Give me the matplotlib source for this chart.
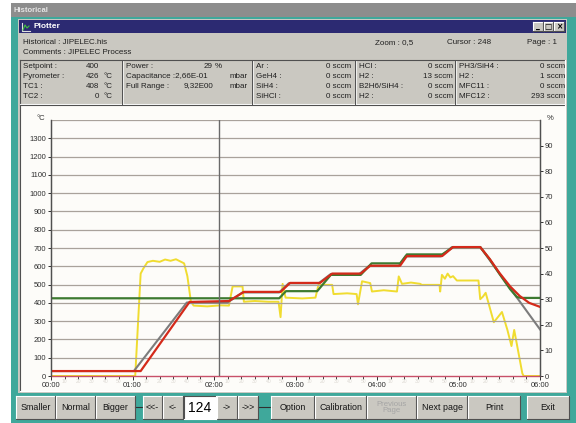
import matplotlib
matplotlib.use("Agg")
import matplotlib.pyplot as plt
from matplotlib.patches import Rectangle
from matplotlib.ticker import FixedLocator, FuncFormatter

plt.rcParams["font.family"] = ["Liberation Sans", "DejaVu Sans"]

# ── Data (time in minutes) ─────────────────────────────
red_t = [0, 66, 102, 131, 142, 169, 176, 198, 207, 228, 235, 257, 262, 288, 296, 316,
         323, 330, 338, 345, 352, 360]
red_v = [27, 27, 405, 410, 460, 460, 509, 509, 560, 560, 603, 603, 656, 656, 705, 705,
         640, 565, 490, 438, 400, 378]

green_t = [0, 168, 173, 196, 206, 228, 236, 257, 262, 288, 296, 316, 323, 330, 338, 343,
           346, 360]
green_v = [425, 425, 464, 464, 553, 553, 616, 616, 665, 665, 705, 705, 638, 560, 475, 432,
           427, 427]

gray_t = [0, 61, 100, 130, 141, 168, 175, 197, 206, 227, 234, 256, 261, 287, 295, 316, 360]
gray_v = [27, 27, 402, 402, 457, 457, 507, 507, 558, 558, 601, 601, 654, 654, 704, 705, 255]

power_t = [0, 62, 64, 66, 68, 71, 75, 80, 84, 88, 92, 95, 98, 100.4, 103, 105, 115, 125,
           131, 133.7, 141, 142, 150, 160, 167.5, 169, 170.5, 172.7, 185, 194.7, 196.9,
           207, 208, 218, 225, 226, 229, 235, 236.3, 245, 254.7, 256, 258.4, 265, 271.8,
           273, 286, 286.5, 287.8, 290, 292, 294, 296, 298.8, 314.7, 316, 318, 320, 326,
           332, 336, 339, 341, 347, 348, 360]
power_v = [0, 0, 20, 40, 42, 44.5, 45, 44.6, 45.5, 45, 45.6, 44.8, 44, 39, 29, 27.5, 27.2,
           27.6, 27.5, 35, 35, 29, 29.3, 29, 29, 23, 36, 30.6, 30.3, 30.6, 35.6, 35.6, 32,
           32.3, 32, 28, 37, 36.3, 33, 33.5, 33, 38.9, 36, 36.5, 36, 35.6, 35.6, 33, 39.5,
           38, 40, 38.5, 39, 37.3, 37.3, 30, 31, 32.5, 21, 25, 18, 11.7, 18, 1, 0, 0]

tc2_t = [0, 360]
tc2_v = [0, 0]

cursor_min = 124

hour_ticks = [0, 60, 120, 180, 240, 300, 360]
hour_labels = ["00:00", "01:00", "02:00", "03:00", "04:00", "05:00", "06:00"]
temp_ticks = list(range(0, 1400, 100))
pct_ticks = list(range(0, 100, 10))

info_rows = [
    ["Setpoint :", "400", "", "Power :", "29", "%", "Ar :", "0 sccm", "HCl :", "0 sccm",
     "PH3/SiH4 :", "0 sccm"],
    ["Pyrometer :", "426", "°C", "Capacitance :2,66E-01", "", "mbar", "GeH4 :", "0 sccm",
     "H2 :", "13 sccm", "H2 :", "1 sccm"],
    ["TC1 :", "408", "°C", "Full Range :", "9,32E00", "mbar", "SiH4 :", "0 sccm",
     "B2H6/SiH4 :", "0 sccm", "MFC11 :", "0 sccm"],
    ["TC2 :", "0", "°C", "", "", "", "SiHCl :", "0 sccm", "H2 :", "0 sccm",
     "MFC12 :", "293 sccm"],
]

buttons = [("Smaller", 16, 55), ("Normal", 56, 95), ("Bigger", 96, 135),
           ("<<-", 143, 162), ("<-", 163, 183), ("->", 217, 237), ("->>", 238, 258),
           ("Option", 271, 314), ("Calibration", 315, 366), ("Previous\nPage", 367, 416),
           ("Next page", 417, 467), ("Print", 468, 520), ("Exit", 527, 569)]

# ── Colours ────────────────────────────────────────────
TEAL = "#3fa89b"
FACE = "#cac8c1"
NAVY = "#2c2a72"

W, H = 576, 423
fig = plt.figure(figsize=(W / 100, H / 100), dpi=100)
fig.patch.set_facecolor("white")

ui = fig.add_axes([0, 0, 1, 1])
ui.set_xlim(0, W)
ui.set_ylim(H, 0)
ui.axis("off")
ui.set_zorder(0)


def rect(x0, y0, x1, y1, color, **kw):
    ui.add_patch(Rectangle((x0, y0), x1 - x0, y1 - y0, facecolor=color,
                           edgecolor=kw.pop("ec", "none"), lw=kw.pop("lw", 0), **kw))


def bevel(x0, y0, x1, y1, raised=True):
    light, dark = ("white", "#505050") if raised else ("#505050", "white")
    ui.plot([x0, x1], [y0, y0], color=light, lw=0.8)
    ui.plot([x0, x0], [y0, y1], color=light, lw=0.8)
    ui.plot([x0, x1], [y1, y1], color=dark, lw=0.8)
    ui.plot([x1, x1], [y0, y1], color=dark, lw=0.8)


# ── Window frame ───────────────────────────────────────
rect(11, 3, W, 17, "#8d8d8d")
ui.text(14, 10, "Historical", color="#e6e6e6", fontsize=5.5, fontweight="bold", va="center")
rect(11, 17, W, H, TEAL)
rect(18, 19, 567, 393, FACE)
rect(19, 20, 566, 33, NAVY)
ui.plot([22, 22, 30], [23, 31, 31], color="#e0e0e0", lw=0.8)
ui.plot([23, 25, 27, 29], [30, 25, 28, 26], color="#40c040", lw=0.8)
ui.text(33, 26.5, "Plotter", color="white", fontsize=6, fontweight="bold", va="center")
for i, g in enumerate(["_", "□", "×"]):
    bx = 533 + i * 10.5
    rect(bx, 22, bx + 9.5, 31, FACE)
    bevel(bx, 22, bx + 9.5, 31)
    ui.text(bx + 4.75, 26.5, g, fontsize=5.5, ha="center", va="center",
            fontweight="bold", family=["DejaVu Sans"])

# header
hdr = dict(fontsize=5.8, va="center", color="#202020")
ui.text(23, 43, "Historical : JIPELEC.his", **hdr)
ui.text(23, 53, "Comments : JIPELEC Process", **hdr)
ui.text(375, 43, "Zoom : 0,5", **hdr)
ui.text(447, 43, "Cursor : 248", **hdr)
ui.text(527, 43, "Page : 1", **hdr)
bevel(20, 60, 565, 104, raised=False)
for sx in [122, 252, 355, 455]:
    ui.plot([sx, sx], [61, 104], color="#505050", lw=0.7)
    ui.plot([sx + 1, sx + 1], [61, 104], color="white", lw=0.5)

# info table
row_y = [66, 76, 86, 96]
for y, row in zip(row_y, info_rows):
    ui.text(23, y, row[0], **hdr)
    ui.text(99, y, row[1], ha="right", **hdr)
    ui.text(104, y, row[2], **hdr)
    ui.text(126, y, row[3], **hdr)
    ui.text(213, y, row[4], ha="right", **hdr)
    ui.text(230 if row[5] == "mbar" else 215, y, row[5], **hdr)
    ui.text(256, y, row[6], **hdr)
    ui.text(351, y, row[7], ha="right", **hdr)
    ui.text(359, y, row[8], **hdr)
    ui.text(453, y, row[9], ha="right", **hdr)
    ui.text(459, y, row[10], **hdr)
    ui.text(565, y, row[11], ha="right", **hdr)

# plot area
rect(20, 105, 565, 391, "#fdfcf9")
bevel(20, 105, 565, 391, raised=False)

# ── Buttons ────────────────────────────────────────────
ui.plot([135, 143], [407, 407], color="#303030", lw=0.8)
ui.plot([258, 271], [407, 407], color="#303030", lw=0.8)
for label, x0, x1 in buttons:
    rect(x0, 396, x1, 419, FACE)
    bevel(x0, 396, x1, 419)
    disabled = label.startswith("Previous")
    ui.text((x0 + x1) / 2, 407.5, label, fontsize=5.6 if disabled else 6.4,
            ha="center", va="center", linespacing=0.95,
            color="#a5a5a5" if disabled else "#151515")
rect(184, 396, 216, 419, "white")
bevel(184, 396, 216, 419, raised=False)
ui.text(200, 408, "124", fontsize=10, ha="center", va="center")

# ── Data axes ──────────────────────────────────────────
left, right, top, bottom = 51, 540, 120, 376
ax = fig.add_axes([left / W, (H - bottom) / H, (right - left) / W, (bottom - top) / H])
ax2 = ax.twinx()
ax.set_zorder(3)
ax2.set_zorder(2)
ax.patch.set_visible(False)
ax2.patch.set_visible(False)

ax2.plot(power_t, power_v, color="#f0dc30", lw=1.4, solid_joinstyle="round")
ax.plot(tc2_t, tc2_v, color="#c8506a", lw=1.0, clip_on=False)
ax.plot(gray_t, gray_v, color="#7c7c7c", lw=1.5)
ax.plot(green_t, green_v, color="#3d7a30", lw=1.6)
ax.plot(red_t, red_v, color="#d42a1a", lw=1.6)
ax.axvline(cursor_min, color="#6a6a6a", lw=1.0)

ax.set_xlim(0, 360)
ax.set_ylim(0, 1400)
ax2.set_ylim(0, 100)
for y in temp_ticks[1:] + [1400]:
    ax.axhline(y, color="#a9a29b", lw=0.9, zorder=0)

ax.set_xticks(hour_ticks)
ax.set_xticklabels(hour_labels)
ax.xaxis.set_minor_locator(FixedLocator([m for m in range(10, 360, 10) if m % 60]))
ax.xaxis.set_minor_formatter(FuncFormatter(lambda v, p: f"{int(v % 60)}"))
ax.tick_params(axis="x", which="major", length=3, width=0.7, pad=1, labelsize=5.5,
               colors="#303030")
ax.tick_params(axis="x", which="minor", length=2.5, width=0.7, pad=0, labelsize=3.6,
               labelcolor="#dcd8d2", color="#404040")
ax.set_yticks(temp_ticks)
ax.tick_params(axis="y", length=2.5, width=0.7, pad=1, labelsize=5.5, colors="#303030")
ax2.set_yticks(pct_ticks)
ax2.tick_params(axis="y", length=2.5, width=0.7, pad=1, labelsize=5.5, colors="#303030")

for a in (ax, ax2):
    for s in ("top", "bottom"):
        a.spines[s].set_visible(False)
    a.spines["left"].set_color("#505050")
    a.spines["right"].set_color("#505050")
    a.spines["left"].set_linewidth(0.9)
    a.spines["right"].set_linewidth(0.9)

ui.text(45, 118, "°C", fontsize=5.5, ha="right", va="center", color="#303030")
ui.text(547, 118, "%", fontsize=5.5, ha="left", va="center", color="#303030")

fig.savefig("out.png", dpi=100)
